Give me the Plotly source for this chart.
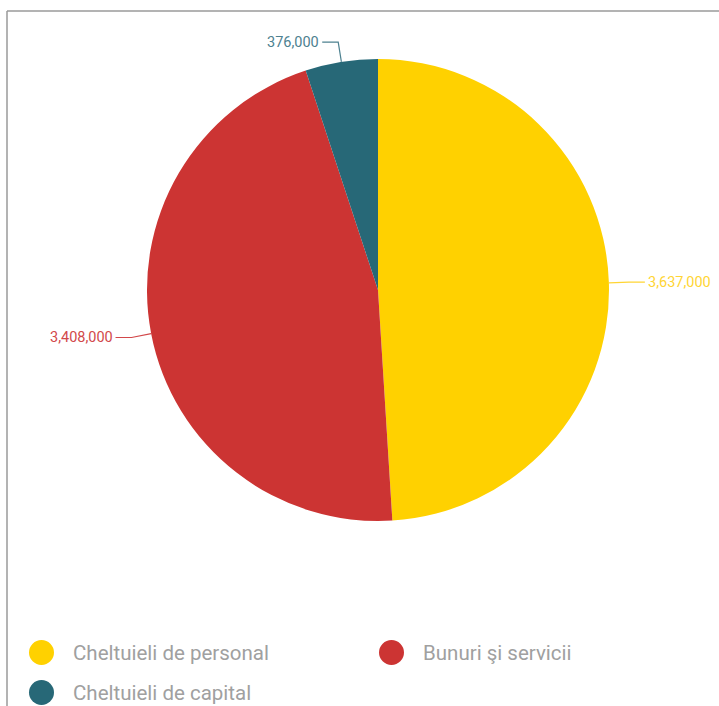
import math
import plotly.graph_objects as go

# ---- data ----
categories = ["Cheltuieli de personal", "Bunuri şi servicii", "Cheltuieli de capital"]
values = [3637000, 3408000, 376000]
colors = ["#FFD100", "#CC3433", "#276877"]
label_colors = ["#FFD534", "#D2484A", "#4D8190"]

# ---- layout constants (pixels) ----
W, H = 719, 706
CX, CY, R = 378, 290, 231
FONT = "Roboto, Liberation Sans, sans-serif"


def px(x):
    return x / W


def py(y):
    return 1 - y / H


fig = go.Figure()
fig.add_trace(go.Pie(
    labels=categories,
    values=values,
    marker=dict(colors=colors, line=dict(width=0)),
    sort=False,
    direction="clockwise",
    rotation=0,
    textinfo="none",
    hoverinfo="label+value",
    showlegend=False,
    domain=dict(x=[px(CX - R), px(CX + R)], y=[py(CY + R), py(CY - R)]),
))

shapes = []
annotations = []

# chart border (top and left)
shapes.append(dict(type="line", xref="paper", yref="paper", x0=px(7), x1=1.02, y0=py(11), y1=py(11),
                   line=dict(color="#9a9a9a", width=1.5)))
shapes.append(dict(type="line", xref="paper", yref="paper", x0=px(7), x1=px(7), y0=py(11), y1=-0.02,
                   line=dict(color="#9a9a9a", width=1.5)))

# data labels with connectors, positioned from slice mid-angles
total = sum(values)
cum = 0
for v, c, lc in zip(values, colors, label_colors):
    mid = (cum + v / 2) / total * 2 * math.pi
    cum += v
    s, co = math.sin(mid), math.cos(mid)
    ex, ey = CX + R * s, CY - R * co
    d = 20
    qx, qy = CX + (R + d) * s, CY - (R + d) * co
    right = s > 0
    hx = qx + 16 if right else qx - 16
    shapes.append(dict(type="path", xref="paper", yref="paper",
                       path=f"M {px(ex)} {py(ey)} L {px(qx)} {py(qy)} L {px(hx)} {py(qy)}",
                       line=dict(color=lc, width=1.2)))
    annotations.append(dict(
        text=f"{v:,}", xref="paper", yref="paper",
        x=px(hx + (1 if right else -1)), y=py(qy),
        xanchor="left" if right else "right", yanchor="middle",
        showarrow=False, font=dict(family=FONT, size=14.5, color=lc),
    ))

# legend
legend_pos = [(41.5, 652.5), (391.5, 652.5), (41.5, 692.5)]
for name, c, (lx, ly) in zip(categories, colors, legend_pos):
    shapes.append(dict(type="circle", xref="paper", yref="paper",
                       xsizemode="pixel", ysizemode="pixel",
                       xanchor=px(lx), yanchor=py(ly),
                       x0=-12.5, x1=12.5, y0=-12.5, y1=12.5,
                       fillcolor=c, line=dict(width=0)))
    annotations.append(dict(
        text=name, xref="paper", yref="paper",
        x=px(lx + 29), y=py(ly),
        xanchor="left", yanchor="middle",
        showarrow=False, font=dict(family=FONT, size=20.5, color="#a0a0a0"),
    ))

fig.update_layout(
    width=W, height=H,
    margin=dict(l=0, r=0, t=0, b=0),
    paper_bgcolor="white",
    plot_bgcolor="white",
    shapes=shapes,
    annotations=annotations,
    font=dict(family=FONT),
)

fig.write_html("out.html",
               config={"displayModeBar": False},
               post_script="document.body.style.margin='0';document.body.style.overflow='hidden';")
